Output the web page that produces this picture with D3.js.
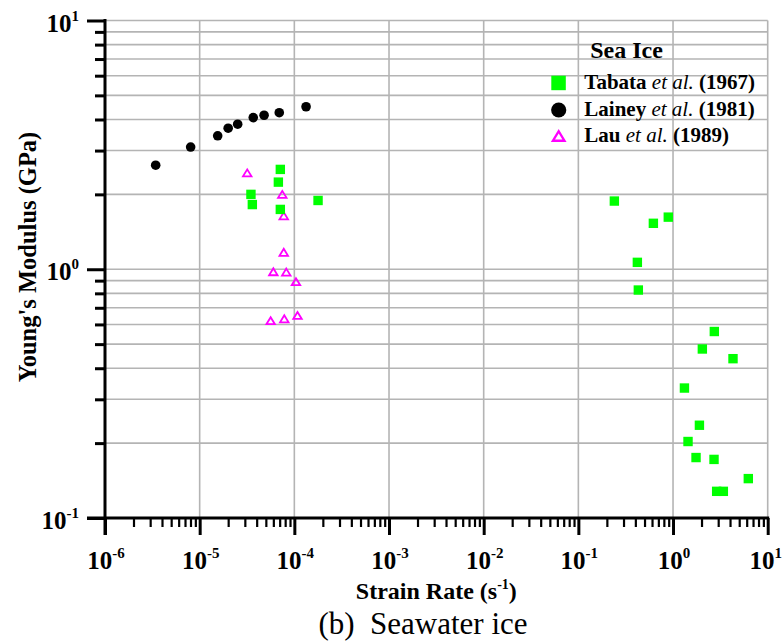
<!DOCTYPE html>
<html>
<head>
<meta charset="utf-8">
<script src="https://cdn.jsdelivr.net/npm/d3@7"></script>
<style>
  body { margin: 0; background: #fff; }
  svg text { font-family: "Liberation Serif", "Times New Roman", serif; }
</style>
</head>
<body>
<div id="chart"></div>
<script>
(function(){
    // data (strain rate s^-1, Young's modulus GPa)
    var tabataRate = [7.11e-5, 6.78e-5, 3.48e-5, 3.60e-5, 7.11e-5, 1.78e-4,
                      0.240, 0.620, 0.891, 0.420, 0.430, 2.73, 2.04, 4.30, 1.32,
                      1.90, 1.44, 1.75, 2.71, 6.24, 2.89, 3.40];
    var tabataModulus = [2.52, 2.24, 2.00, 1.82, 1.74, 1.89,
                         1.88, 1.53, 1.62, 1.066, 0.825, 0.562, 0.478, 0.437, 0.333,
                         0.236, 0.203, 0.175, 0.172, 0.144, 0.128, 0.128];
    var laineyRate = [3.43e-6, 8.03e-6, 1.55e-5, 2.00e-5, 2.52e-5, 3.68e-5, 4.79e-5, 6.93e-5, 1.33e-4];
    var laineyModulus = [2.62, 3.10, 3.44, 3.69, 3.83, 4.07, 4.16, 4.26, 4.50];
    var lauRate = [3.18e-5, 7.46e-5, 7.73e-5, 7.73e-5, 6.0e-5, 8.22e-5, 1.04e-4, 5.62e-5, 7.83e-5, 1.08e-4];
    var lauModulus = [2.44, 2.00, 1.64, 1.17, 0.977, 0.974, 0.891, 0.621, 0.632, 0.652];

    var xDecades = [-6, -5, -4, -3, -2, -1, 0, 1];
    var yDecades = [-1, 0, 1];

    var legendTitle = 'Sea Ice';
    var legendNames = [['Tabata', '(1967)'], ['Lainey', '(1981)'], ['Lau', '(1989)']];

    var WIDTH = 783, HEIGHT = 642;
    var LEFT = 105, RIGHT = 767.7, TOP = 20.5, BOTTOM = 518;
    var GRID = '#b4b4b4';

    var svg = d3.select('#chart').append('svg')
        .attr('width', WIDTH)
        .attr('height', HEIGHT);

    var x = d3.scaleLog().domain([1e-6, 10]).range([LEFT, RIGHT]);
    var y = d3.scaleLog().domain([0.1, 10]).range([BOTTOM, TOP]);

    var xMajor = xDecades.map(function(e){ return Math.pow(10, e); });
    var yMajor = yDecades.map(function(e){ return Math.pow(10, e); });
    var xMinor = x.ticks().filter(function(v){ return xMajor.indexOf(v) < 0; });
    var yAll = y.ticks();
    var yMinor = yAll.filter(function(v){ return yMajor.indexOf(v) < 0; });

    // grid ----------------------------------------------------------------
    var grid = svg.append('g').attr('class', 'grid');
    grid.selectAll('line.v').data(xMajor).enter().append('line')
        .attr('x1', function(d){ return x(d); }).attr('x2', function(d){ return x(d); })
        .attr('y1', TOP).attr('y2', BOTTOM)
        .attr('stroke', GRID).attr('stroke-width', 1.6);
    grid.selectAll('line.h').data(yAll).enter().append('line')
        .attr('x1', LEFT).attr('x2', RIGHT)
        .attr('y1', function(d){ return y(d); }).attr('y2', function(d){ return y(d); })
        .attr('stroke', GRID).attr('stroke-width', 1.6);

    // axes ----------------------------------------------------------------
    var xAxisG = svg.append('g').attr('transform', 'translate(0,' + BOTTOM + ')');
    xAxisG.append('g').call(d3.axisBottom(x).tickValues(xMajor).tickSize(17).tickSizeOuter(0).tickFormat(''))
        .selectAll('line').attr('stroke-width', 3);
    xAxisG.append('g').call(d3.axisBottom(x).tickValues(xMinor).tickSize(9).tickSizeOuter(0).tickFormat(''))
        .selectAll('line').attr('stroke-width', 2.2);
    xAxisG.selectAll('.domain').remove();

    var yAxisG = svg.append('g').attr('transform', 'translate(' + LEFT + ',0)');
    yAxisG.append('g').call(d3.axisLeft(y).tickValues(yMajor).tickSize(18).tickSizeOuter(0).tickFormat(''))
        .selectAll('line').attr('stroke-width', 3);
    yAxisG.append('g').call(d3.axisLeft(y).tickValues(yMinor).tickSize(10).tickSizeOuter(0).tickFormat(''))
        .selectAll('line').attr('stroke-width', 3);
    yAxisG.selectAll('.domain').remove();

    svg.append('line').attr('x1', LEFT - 18).attr('x2', RIGHT + 1.5)
        .attr('y1', BOTTOM).attr('y2', BOTTOM).attr('stroke', '#000').attr('stroke-width', 3);
    svg.append('line').attr('x1', LEFT).attr('x2', LEFT)
        .attr('y1', TOP - 1.5).attr('y2', BOTTOM + 17).attr('stroke', '#000').attr('stroke-width', 3);

    // tick labels
    function powLabel(sel, e){
        sel.append('tspan').text('10');
        sel.append('tspan').attr('dy', -11).attr('font-size', 15).text(String(e));
    }
    xDecades.forEach(function(e, i){
        var last = i === xDecades.length - 1;
        var t = svg.append('text')
            .attr('x', last ? 782 : x(Math.pow(10, e)) + 1).attr('y', 569)
            .attr('text-anchor', last ? 'end' : 'middle')
            .attr('font-size', 25).attr('font-weight', 'bold');
        powLabel(t, e);
    });
    yDecades.forEach(function(e){
        var t = svg.append('text')
            .attr('x', 79).attr('y', y(Math.pow(10, e)) + 11)
            .attr('text-anchor', 'end')
            .attr('font-size', 25).attr('font-weight', 'bold');
        powLabel(t, e);
    });

    // axis titles
    var xt = svg.append('text')
        .attr('x', (LEFT + RIGHT) / 2).attr('y', 599)
        .attr('text-anchor', 'middle')
        .attr('font-size', 24).attr('font-weight', 'bold');
    xt.append('tspan').text('Strain Rate (s');
    xt.append('tspan').attr('dy', -10).attr('font-size', 14).text('-1');
    xt.append('tspan').attr('dy', 10).text(')');

    svg.append('text')
        .attr('transform', 'translate(36,257) rotate(-90)')
        .attr('text-anchor', 'middle')
        .attr('font-size', 24.5).attr('font-weight', 'bold')
        .text("Young's Modulus (GPa)");

    svg.append('text')
        .attr('x', 423).attr('y', 634)
        .attr('text-anchor', 'middle')
        .attr('font-size', 31)
        .style('white-space', 'pre')
        .text('(b)  Seawater ice');

    // markers -------------------------------------------------------------
    function triPath(cx, cy, w, h){
        return 'M' + cx + ',' + (cy - h / 2) + 'L' + (cx + w / 2) + ',' + (cy + h / 2) +
               'L' + (cx - w / 2) + ',' + (cy + h / 2) + 'Z';
    }

    var marks = svg.append('g').attr('class', 'marks');

    marks.selectAll('circle.lainey').data(d3.zip(laineyRate, laineyModulus)).enter()
        .append('circle')
        .attr('cx', function(d){ return x(d[0]); })
        .attr('cy', function(d){ return y(d[1]); })
        .attr('r', 4.8).attr('fill', '#000');

    marks.selectAll('path.lau').data(d3.zip(lauRate, lauModulus)).enter()
        .append('path')
        .attr('d', function(d){ return triPath(x(d[0]), y(d[1]), 8.5, 7); })
        .attr('fill', 'none').attr('stroke', '#ff00ff').attr('stroke-width', 1.8);

    marks.selectAll('rect.tabata').data(d3.zip(tabataRate, tabataModulus)).enter()
        .append('rect')
        .attr('x', function(d){ return x(d[0]) - 4.7; })
        .attr('y', function(d){ return y(d[1]) - 4.7; })
        .attr('width', 9.4).attr('height', 9.4).attr('fill', '#00ff00');

    // legend --------------------------------------------------------------
    var lg = svg.append('g').attr('class', 'legend');
    lg.append('text').attr('x', 626.5).attr('y', 58).attr('text-anchor', 'middle')
        .attr('font-size', 24).attr('font-weight', 'bold').text(legendTitle);

    var rowY = [89.3, 116, 141.7];
    lg.append('rect').attr('x', 551.3).attr('y', 75.7).attr('width', 14.5).attr('height', 14.5).attr('fill', '#00ff00');
    lg.append('circle').attr('cx', 558.7).attr('cy', 110).attr('r', 7.6).attr('fill', '#000');
    lg.append('path').attr('d', triPath(558.7, 136, 11.5, 9.5))
        .attr('fill', 'none').attr('stroke', '#ff00ff').attr('stroke-width', 2.4);

    legendNames.forEach(function(n, i){
        var t = lg.append('text').attr('x', 584.3).attr('y', rowY[i])
            .attr('font-size', 21).attr('font-weight', 'bold').style('white-space', 'pre');
        t.append('tspan').text(n[0] + ' ');
        t.append('tspan').attr('font-style', 'italic').attr('font-weight', 'normal').text('et al.');
        t.append('tspan').text(' ' + n[1]);
    });
})();
</script>
</body>
</html>
